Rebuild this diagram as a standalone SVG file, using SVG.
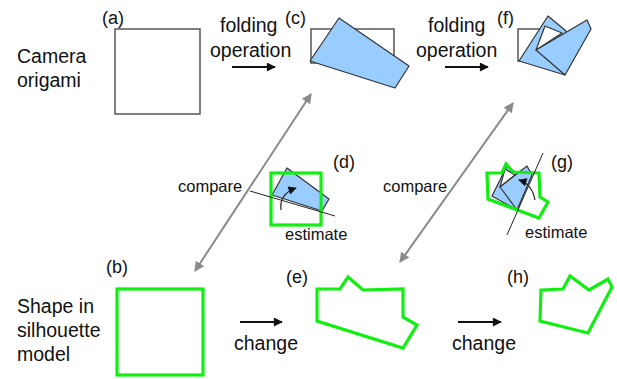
<svg xmlns="http://www.w3.org/2000/svg" width="617" height="379" viewBox="0 0 617 379">
  <style>
    text { font-family: "Liberation Sans", Arial, sans-serif; fill: #111; }
    .big { font-size: 19.5px; }
    .tag { font-size: 18px; }
    .small { font-size: 16.5px; }
    .paper { fill: #fff; stroke: #555; stroke-width: 1.5; }
    .blue { fill: #99ccff; stroke: #333; stroke-width: 1.2; stroke-linejoin: round; }
    .hole { fill: #fff; stroke: #333; stroke-width: 1.2; stroke-linejoin: round; }
    .sil { fill: none; stroke: #11ee11; stroke-width: 3.2; stroke-linejoin: miter; }
    .thin { stroke: #222; stroke-width: 1; fill: none; }
    .step { stroke: #111; stroke-width: 2; fill: none; marker-end: url(#head); }
    .cmp { stroke: #8a8a8a; stroke-width: 2; fill: none; marker-start: url(#ghead); marker-end: url(#ghead); }
    .turn { stroke: #222; stroke-width: 1.2; fill: none; marker-end: url(#thead); }
  </style>
  <defs>
    <marker id="head" viewBox="0 0 10 10" refX="9" refY="5" markerWidth="5" markerHeight="4.5" orient="auto" markerUnits="strokeWidth">
      <path d="M0,0 L10,5 L0,10 z" fill="#111"/>
    </marker>
    <marker id="ghead" viewBox="0 0 10 10" refX="9" refY="5" markerWidth="6" markerHeight="5" orient="auto-start-reverse" markerUnits="strokeWidth">
      <path d="M0,0 L10,5 L0,10 z" fill="#8a8a8a"/>
    </marker>
    <marker id="thead" viewBox="0 0 10 10" refX="9" refY="5" markerWidth="8" markerHeight="7" orient="auto" markerUnits="strokeWidth">
      <path d="M0,0 L10,5 L0,10 z" fill="#111"/>
    </marker>
  </defs>

  <!-- row captions -->
  <g id="caption-origami">
    <text class="big" x="17" y="63">Camera</text>
    <text class="big" x="17" y="87">origami</text>
  </g>
  <g id="caption-silhouette">
    <text class="big" x="17" y="313">Shape in</text>
    <text class="big" x="17" y="337">silhouette</text>
    <text class="big" x="17" y="361">model</text>
  </g>

  <!-- (a) flat sheet -->
  <g id="node-a">
    <text class="tag" x="102" y="24">(a)</text>
    <rect class="paper" x="115" y="29" width="85" height="85"/>
  </g>

  <!-- (c) first fold -->
  <g id="node-c">
    <text class="tag" x="285" y="24">(c)</text>
    <rect class="paper" x="311" y="29" width="83" height="34"/>
    <polygon class="blue" points="310,61 339,18 409,66 395,88"/>
  </g>

  <!-- (f) second fold -->
  <g id="node-f">
    <text class="tag" x="497" y="24">(f)</text>
    <rect class="paper" x="518" y="29" width="40" height="32"/>
    <polygon class="blue" points="519,61 548,16 566,31 565,75"/>
    <polygon class="hole" points="545,26 562,33 536,50"/>
    <polygon class="blue" points="536,50 587,20 591,29 565,75"/>
  </g>

  <!-- (d) estimate of the fold in the image -->
  <g id="node-d">
    <text class="tag" x="333" y="168">(d)</text>
    <polygon class="blue" points="272,195 287,168 329,199 322,211"/>
    <rect class="sil" x="271" y="173" width="50" height="52"/>
    <line class="thin" x1="250" y1="191" x2="335" y2="216"/>
    <path class="turn" d="M281,210 Q279,194 296,188"/>
    <text class="small" x="285" y="240">estimate</text>
  </g>

  <!-- (g) estimate of the second fold -->
  <g id="node-g">
    <text class="tag" x="551" y="168">(g)</text>
    <polygon class="blue" points="492,196 507,166 518,174 517,210"/>
    <polygon class="hole" points="505,169 515,175 500,187"/>
    <polygon class="blue" points="500,187 527,166 532,175 517,210"/>
    <polygon class="sil" points="487,173 502,173 506,164 513,172 539,173 540,197 548,202 539,218 488,199"/>
    <line class="thin" x1="543" y1="153" x2="507" y2="235"/>
    <path class="turn" d="M535,200 Q532,184 519,180"/>
    <text class="small" x="525" y="238">estimate</text>
  </g>

  <!-- (b) initial silhouette -->
  <g id="node-b">
    <text class="tag" x="106" y="273">(b)</text>
    <rect class="sil" x="117" y="289" width="86" height="86"/>
  </g>

  <!-- (e) changed silhouette -->
  <g id="node-e">
    <text class="tag" x="286" y="283">(e)</text>
    <polygon class="sil" points="317,289 340,289 348,277 363,290 403,289 403,317 417,325 403,348 317,321"/>
  </g>

  <!-- (h) changed silhouette -->
  <g id="node-h">
    <text class="tag" x="507" y="283">(h)</text>
    <polygon class="sil" points="541,290 563,289 570,276 589,290 608,279 612,287 588,333 540,321"/>
  </g>

  <!-- connectors -->
  <g id="connectors">
    <line class="step" x1="232" y1="67" x2="275" y2="67"/>
    <line class="step" x1="445" y1="67" x2="488" y2="67"/>
    <line class="step" x1="240" y1="322" x2="282" y2="322"/>
    <line class="step" x1="458" y1="322" x2="501" y2="322"/>
    <line class="cmp" x1="311" y1="94" x2="195" y2="271"/>
    <line class="cmp" x1="513" y1="103" x2="400" y2="262"/>
  </g>

  <!-- connector labels -->
  <g id="connector-labels">
    <text class="big" x="220" y="32">folding</text>
    <text class="big" x="210" y="57">operation</text>
    <text class="big" x="428" y="32">folding</text>
    <text class="big" x="416" y="57">operation</text>
    <text class="small" x="178" y="192">compare</text>
    <text class="small" x="383" y="192">compare</text>
    <text class="big" x="234" y="350">change</text>
    <text class="big" x="452" y="350">change</text>
  </g>
</svg>
